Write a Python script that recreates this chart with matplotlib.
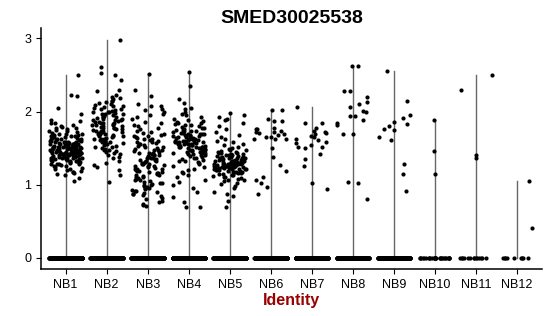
import matplotlib
matplotlib.use("Agg")
import matplotlib.pyplot as plt
import numpy as np

plt.rcParams['font.family'] = ['Liberation Sans', 'DejaVu Sans']

groups = ['NB1', 'NB2', 'NB3', 'NB4', 'NB5', 'NB6', 'NB7', 'NB8', 'NB9', 'NB10', 'NB11', 'NB12']
zero_counts = [600, 500, 500, 500, 500, 320, 320, 320, 280, 28, 14, 9]

nb1 = [2.50, 2.22, 2.21, 2.05, 1.97, 1.88, 1.87, 1.85, 1.84, 1.82, 1.80, 1.79, 1.78, 1.77, 1.76,
       1.75, 1.74, 1.73, 1.72, 1.71, 1.70, 1.70, 1.69, 1.68, 1.68, 1.67, 1.66, 1.66, 1.65, 1.65,
       1.64, 1.64, 1.63, 1.63, 1.62, 1.62, 1.61, 1.61, 1.60, 1.60, 1.60, 1.59, 1.59, 1.58, 1.58,
       1.58, 1.57, 1.57, 1.57, 1.56, 1.56, 1.56, 1.55, 1.55, 1.55, 1.55, 1.54, 1.54, 1.54, 1.53,
       1.53, 1.53, 1.53, 1.52, 1.52, 1.52, 1.52, 1.51, 1.51, 1.51, 1.51, 1.50, 1.50, 1.50, 1.50,
       1.50, 1.49, 1.49, 1.49, 1.49, 1.48, 1.48, 1.48, 1.48, 1.47, 1.47, 1.47, 1.47, 1.46, 1.46,
       1.46, 1.46, 1.45, 1.45, 1.45, 1.45, 1.45, 1.44, 1.44, 1.44, 1.44, 1.43, 1.43, 1.43, 1.43,
       1.42, 1.42, 1.42, 1.42, 1.41, 1.41, 1.41, 1.41, 1.40, 1.40, 1.40, 1.40, 1.39, 1.39, 1.39,
       1.38, 1.38, 1.38, 1.37, 1.37, 1.37, 1.36, 1.36, 1.36, 1.35, 1.35, 1.35, 1.34, 1.34, 1.33,
       1.33, 1.32, 1.32, 1.31, 1.31, 1.30, 1.30, 1.29, 1.29, 1.28, 1.28, 1.27, 1.26, 1.25, 1.24,
       1.23, 1.22, 1.21, 1.20, 1.19, 1.18, 1.17, 1.16, 1.15, 1.13, 1.09, 1.05]
nb2 = [2.98, 2.61, 2.53, 2.50, 2.43, 2.30, 2.28, 2.22, 2.20, 2.19, 2.17, 2.15, 2.14, 2.13, 2.12,
       2.10, 2.09, 2.08, 2.07, 2.06, 2.05, 2.04, 2.03, 2.02, 2.01, 2.00, 2.00, 1.99, 1.98, 1.97,
       1.96, 1.96, 1.95, 1.94, 1.93, 1.93, 1.92, 1.91, 1.90, 1.90, 1.89, 1.88, 1.88, 1.87, 1.86,
       1.86, 1.85, 1.84, 1.84, 1.83, 1.82, 1.82, 1.81, 1.80, 1.80, 1.79, 1.78, 1.78, 1.77, 1.76,
       1.76, 1.75, 1.74, 1.74, 1.73, 1.72, 1.72, 1.71, 1.70, 1.70, 1.69, 1.68, 1.67, 1.66, 1.66,
       1.65, 1.64, 1.63, 1.63, 1.62, 1.61, 1.60, 1.59, 1.58, 1.57, 1.56, 1.55, 1.54, 1.53, 1.52,
       1.51, 1.50, 1.49, 1.48, 1.47, 1.46, 1.45, 1.43, 1.42, 1.40, 1.38, 1.36, 1.33, 1.30, 1.27,
       1.24, 1.20, 1.13, 1.04]
nb3 = [2.52, 2.30, 2.21, 2.10, 2.08, 2.07, 2.03, 2.02, 2.00, 1.97, 1.95, 1.93, 1.90, 1.86, 1.84,
       1.82, 1.80, 1.78, 1.76, 1.74, 1.72, 1.71, 1.70, 1.68, 1.67, 1.66, 1.65, 1.64, 1.63, 1.62,
       1.61, 1.60, 1.59, 1.58, 1.57, 1.56, 1.55, 1.54, 1.53, 1.52, 1.51, 1.50, 1.49, 1.48, 1.47,
       1.47, 1.46, 1.45, 1.44, 1.43, 1.43, 1.42, 1.41, 1.40, 1.40, 1.39, 1.38, 1.37, 1.37, 1.36,
       1.35, 1.34, 1.34, 1.33, 1.32, 1.31, 1.31, 1.30, 1.29, 1.28, 1.28, 1.27, 1.26, 1.25, 1.25,
       1.24, 1.23, 1.22, 1.22, 1.21, 1.20, 1.19, 1.19, 1.18, 1.17, 1.16, 1.16, 1.15, 1.14, 1.13,
       1.12, 1.11, 1.10, 1.09, 1.08, 1.07, 1.06, 1.05, 1.04, 1.03, 1.02, 1.01, 1.00, 0.99, 0.98,
       0.97, 0.96, 0.95, 0.94, 0.93, 0.92, 0.91, 0.90, 0.89, 0.88, 0.87, 0.86, 0.84, 0.82, 0.80,
       0.78, 0.76, 0.74, 0.72, 0.71]
nb4 = [2.54, 2.35, 2.17, 2.12, 2.05, 2.04, 2.00, 1.97, 1.95, 1.93, 1.90, 1.88, 1.87, 1.86, 1.85,
       1.84, 1.83, 1.82, 1.81, 1.80, 1.79, 1.78, 1.77, 1.76, 1.75, 1.75, 1.74, 1.73, 1.73, 1.72,
       1.71, 1.71, 1.70, 1.70, 1.69, 1.69, 1.68, 1.68, 1.67, 1.67, 1.66, 1.66, 1.65, 1.65, 1.64,
       1.64, 1.63, 1.63, 1.62, 1.62, 1.61, 1.61, 1.60, 1.60, 1.60, 1.59, 1.59, 1.58, 1.58, 1.58,
       1.57, 1.57, 1.56, 1.56, 1.56, 1.55, 1.55, 1.54, 1.54, 1.54, 1.53, 1.53, 1.52, 1.52, 1.52,
       1.51, 1.51, 1.50, 1.50, 1.49, 1.49, 1.48, 1.48, 1.47, 1.47, 1.46, 1.46, 1.45, 1.45, 1.44,
       1.44, 1.43, 1.42, 1.42, 1.41, 1.40, 1.39, 1.38, 1.37, 1.36, 1.35, 1.34, 1.33, 1.32, 1.31,
       1.30, 1.28, 1.26, 1.24, 1.22, 1.20, 1.18, 1.16, 1.13, 1.10, 1.07, 1.04, 1.00, 0.95, 0.90,
       0.83, 0.77, 0.70, 0.69]
nb5 = [1.98, 1.95, 1.93, 1.90, 1.88, 1.85, 1.80, 1.76, 1.72, 1.68, 1.65, 1.62, 1.60, 1.58, 1.56,
       1.54, 1.52, 1.50, 1.49, 1.48, 1.47, 1.46, 1.45, 1.45, 1.44, 1.43, 1.43, 1.42, 1.42, 1.41,
       1.41, 1.40, 1.40, 1.39, 1.39, 1.38, 1.38, 1.38, 1.37, 1.37, 1.37, 1.36, 1.36, 1.36, 1.35,
       1.35, 1.35, 1.34, 1.34, 1.34, 1.33, 1.33, 1.33, 1.33, 1.32, 1.32, 1.32, 1.31, 1.31, 1.31,
       1.31, 1.30, 1.30, 1.30, 1.30, 1.29, 1.29, 1.29, 1.29, 1.28, 1.28, 1.28, 1.28, 1.27, 1.27,
       1.27, 1.27, 1.26, 1.26, 1.26, 1.26, 1.25, 1.25, 1.25, 1.25, 1.24, 1.24, 1.24, 1.24, 1.23,
       1.23, 1.23, 1.22, 1.22, 1.22, 1.21, 1.21, 1.21, 1.20, 1.20, 1.20, 1.19, 1.19, 1.18, 1.18,
       1.17, 1.17, 1.16, 1.16, 1.15, 1.15, 1.14, 1.13, 1.12, 1.11, 1.10, 1.09, 1.08, 1.07, 1.06,
       1.05, 1.03, 1.01, 0.98, 0.95, 0.90, 0.87, 0.85, 0.78, 0.70]
nb6 = [2.02, 2.02, 1.90, 1.87, 1.87, 1.77, 1.76, 1.76, 1.73, 1.72, 1.72, 1.71, 1.69, 1.68, 1.65,
       1.65, 1.63, 1.62, 1.62, 1.50, 1.38, 1.27, 1.19, 1.10, 1.06, 1.02, 0.97, 0.87]
nb7 = [2.06, 1.85, 1.84, 1.77, 1.73, 1.72, 1.71, 1.70, 1.66, 1.65, 1.63, 1.61, 1.58, 1.57, 1.54,
       1.51, 1.51, 1.50, 1.42, 1.35, 1.26, 1.03, 0.94]
nb8 = [2.62, 2.62, 2.28, 2.28, 2.20, 2.13, 2.10, 2.06, 2.01, 1.99, 1.94, 1.94, 1.88, 1.84, 1.81,
       1.69, 1.69, 1.04, 1.02, 0.80]
nb9 = [2.56, 2.14, 1.95, 1.91, 1.86, 1.83, 1.80, 1.76, 1.75, 1.65, 1.61, 1.28, 1.15, 0.92]
nb10 = [1.88, 1.46, 1.15]
nb11 = [2.50, 2.29, 1.40, 1.36]
nb12 = [1.05, 0.41]
expr = [nb1, nb2, nb3, nb4, nb5, nb6, nb7, nb8, nb9, nb10, nb11, nb12]


def spread(n, offset):
    # deterministic scatter in [-1, 1] for the jitter, like geom_jitter
    k = np.arange(n) + offset
    h = np.sin(k * 12.9898 + 78.233) * 43758.5453
    return 2 * (h - np.floor(h)) - 1


fig, ax = plt.subplots(figsize=(5.5, 3.16), dpi=100)
fig.subplots_adjust(left=0.0745, right=0.985, bottom=0.149, top=0.911)

for i, (vals, nz) in enumerate(zip(expr, zero_counts)):
    pos = i + 1
    y = np.concatenate([np.zeros(nz), np.array(vals)])
    # violin collapses to a thin line
    ax.plot([pos, pos], [0, y.max()], color='#666666', lw=1, zorder=1)
    jit = 0.4 * spread(len(y), i * 1000)
    ax.scatter(pos + jit, y, s=9, color='black', linewidths=0, zorder=2)

ax.set_xlim(0.4, 12.6)
ax.set_ylim(-0.15, 3.14)
ax.set_xticks(range(1, 13))
ax.set_xticklabels(groups)
ax.set_yticks([0, 1, 2, 3])
ax.spines['top'].set_visible(False)
ax.spines['right'].set_visible(False)
ax.spines['left'].set_linewidth(1.1)
ax.spines['bottom'].set_linewidth(1.1)
ax.tick_params(axis='both', labelsize=9, length=3.5, width=0.8, colors='black')
ax.set_title('SMED30025538', fontsize=14, fontweight='bold', pad=4)
ax.set_xlabel('Identity', fontsize=11.5, fontweight='bold', color='#990000', labelpad=2)

fig.savefig('out.png', dpi=100)
